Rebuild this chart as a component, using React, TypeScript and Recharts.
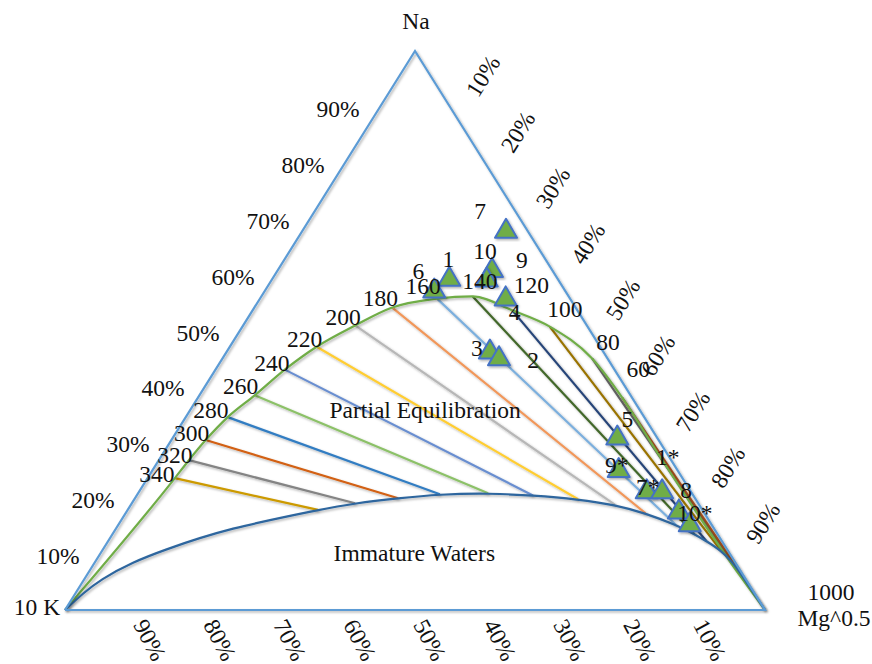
import React from 'react';
import { ComposedChart, XAxis, YAxis, Line, Scatter } from 'recharts';

// Ternary compositions in percent: [Na, K, Mg]
type Tern = [number, number, number];

const vertices: Tern[] = [[100, 0, 0], [0, 100, 0], [0, 0, 100]];
const vertexLabels: string[][] = [['Na'], ['10 K'], ['1000', 'Mg^0.5']];
const axisTicks = [10, 20, 30, 40, 50, 60, 70, 80, 90];

// Na-K temperatures (°C), start on the full equilibrium line, end on the immature line
const isoTemps = [340, 320, 300, 280, 260, 240, 220, 200, 180, 160, 140, 120, 100, 80, 60];
const isoStart: Tern[] = [
  [23.6, 72.5, 3.9],
  [26.8, 68.9, 4.3],
  [30.4, 64.7, 4.9],
  [34.5, 59.5, 6.0],
  [38.4, 53.7, 7.9],
  [43.0, 47.1, 9.9],
  [47.1, 40.5, 12.4],
  [50.9, 33.1, 16.0],
  [54.1, 26.2, 19.7],
  [55.7, 19.0, 25.3],
  [56.1, 13.7, 30.2],
  [53.6, 9.3, 37.1],
  [50.7, 5.4, 43.9],
  [45.0, 2.2, 52.8],
  [38.0, 1.4, 60.6],
];
const isoEnd: Tern[] = [
  [17.9, 54.9, 27.2],
  [19.1, 49.0, 31.9],
  [20.0, 42.4, 37.6],
  [20.7, 36.1, 43.2],
  [20.9, 29.1, 50.0],
  [20.5, 22.9, 56.6],
  [19.8, 16.8, 63.4],
  [18.8, 12.0, 69.2],
  [17.3, 8.4, 74.3],
  [15.2, 5.1, 79.7],
  [13.6, 3.3, 83.1],
  [12.3, 2.2, 85.5],
  [10.7, 1.0, 88.3],
  [8.6, 0.4, 91.0],
  [6.8, 0.2, 93.0],
];
const isoColors = [
  '#CC9A06', '#848484', '#D26012', '#327DC2', '#8CC168', '#698ED0', '#FFCD33', '#B7B7B7',
  '#F1975A', '#7CAFDD', '#43682B', '#264478', '#997300', '#636363', '#A5501E',
];

// extra points of the full equilibrium line below 60 °C
const fullTail: Tern[] = [[28.0, 1.3, 70.7], [16.0, 1.0, 83.0], [6.0, 0.5, 93.5]];
// immature waters line before the 340 °C tie
const immatureLead: Tern[] = [
  [3.0, 95.9, 1.1],
  [5.4, 92.3, 2.3],
  [8.6, 86.0, 5.4],
  [10.9, 80.0, 9.1],
  [12.9, 74.3, 12.8],
  [14.6, 68.7, 16.7],
  [16.0, 63.1, 20.9],
];

const sampleNames = ['7', '10', '9', '1', '6', '4', '3', '2', '5', '9*', '7*', '8', '10*', '1*'];
const sampleNa = [68.2, 61.2, 59.5, 59.6, 57.5, 56.1, 46.6, 45.4, 31.2, 25.4, 21.6, 21.6, 18.0, 15.7];
const sampleK = [2.9, 8.4, 10.0, 15.3, 18.5, 9.0, 16.0, 15.3, 5.5, 8.2, 6.1, 3.9, 3.3, 2.9];
const sampleMg = [28.9, 30.4, 30.5, 25.1, 24.0, 34.9, 37.4, 39.3, 63.3, 66.4, 72.3, 74.5, 78.7, 81.4];

const regionNames = ['Partial Equilibration', 'Immature Waters'];
const regionAt: Tern[] = [[35.7, 30.7, 33.6], [10.2, 45.0, 44.8]];

// label placement (pixels from the point)
const sampleLabelOffset: Record<string, [number, number]> = {
  '7': [-26, -18], '10': [-7, -17], '9': [35, -17], '1': [-1, -18], '6': [-16, -18],
  '4': [9, 16], '3': [-13, -2], '2': [34, 4], '5': [10, -17], '9*': [-2, -3],
  '7*': [1, -2], '8': [24, 1], '10*': [16, 4], '1*': [-22, -65],
};
const isoLabelOffset: Record<number, [number, number]> = {
  340: [-18, -4], 320: [-14, -5], 300: [-14, -7], 280: [-17, -7], 260: [-14, -9],
  240: [-13, -7], 220: [-12, -8], 200: [-12, -8], 180: [-12, -10], 160: [-14, -13],
  140: [7, -15], 120: [19, -25], 100: [15, -18], 80: [16, -16], 60: [16, -29],
};
const vertexLabelOffset: [number, number][] = [[1, -30], [-28, -3], [66, -18]];

const toXY = ([na, , mg]: Tern) => ({ x: (mg + na / 2) / 100, y: na / 100 });

const FONT = "'Liberation Serif', 'Times New Roman', serif";

const Txt = ({ x, y, text, rotate = 0 }: { x: number; y: number; text: string; rotate?: number }) => (
  <text
    x={x}
    y={y}
    textAnchor="middle"
    dominantBaseline="central"
    transform={rotate ? `rotate(${rotate} ${x} ${y})` : undefined}
    fontFamily={FONT}
    fontSize={23.5}
    fill="#111"
  >
    {text}
  </text>
);

const outline = [toXY(vertices[1]), toXY(vertices[0]), toXY(vertices[2]), toXY(vertices[1])];

const fullEquilibrium = [vertices[1], ...isoStart, ...fullTail, vertices[2]].map(toXY);
const immatureWaters = [vertices[1], ...immatureLead, ...isoEnd, vertices[2]].map(toXY);

const isoLines = isoTemps.map((t, i) => ({
  t,
  color: isoColors[i],
  pts: [toXY(isoStart[i]), toXY(isoEnd[i])],
}));
const isoLabels = isoTemps.map((t, i) => ({ ...toXY(isoStart[i]), t }));

const samples = sampleNames.map((name, i) => ({
  ...toXY([sampleNa[i], sampleK[i], sampleMg[i]]),
  name,
}));

const leftTicks = axisTicks.map((v) => ({ ...toXY([v, 100 - v, 0]), v }));
const rightTicks = axisTicks.map((v) => ({ ...toXY([100 - v, 0, v]), v }));
const bottomTicks = axisTicks.map((v) => ({ ...toXY([0, v, 100 - v]), v }));
const vertexPts = vertices.map((t, i) => ({ ...toXY(t), i }));
const regions = regionNames.map((name, i) => ({ ...toXY(regionAt[i]), name }));

const lineProps = {
  dataKey: 'y',
  strokeWidth: 2.2,
  dot: false,
  activeDot: false,
  isAnimationActive: false,
  filter: 'url(#soft-shadow)',
} as const;

export default function App() {
  return (
    <div style={{ position: 'absolute', left: 0, top: 0, width: 872, height: 664, background: '#fff' }}>
      <svg width={0} height={0} style={{ position: 'absolute' }}>
        <defs>
          <filter id="soft-shadow" x="-20%" y="-20%" width="140%" height="140%">
            <feDropShadow dx={1.5} dy={1.5} stdDeviation={1} floodColor="#000" floodOpacity={0.3} />
          </filter>
        </defs>
      </svg>
      <ComposedChart width={872} height={664} margin={{ top: 51, right: 107, bottom: 54, left: 65 }}>
        <XAxis type="number" dataKey="x" domain={[0, 1]} hide />
        <YAxis type="number" dataKey="y" domain={[0, 1]} hide />

        {isoLines.map((l) => (
          <Line key={l.t} data={l.pts} type="linear" stroke={l.color} {...lineProps} />
        ))}

        <Line data={fullEquilibrium} type="monotone" stroke="#70AD47" {...lineProps} />
        <Line data={immatureWaters} type="basis" stroke="#2E669E" {...lineProps} />
        <Line data={outline} type="linear" stroke="#5B9BD5" {...lineProps} />

        <Scatter
          data={samples}
          isAnimationActive={false}
          shape={(p: any) => (
            <polygon
              points={`${p.cx},${p.cy - 10} ${p.cx + 11},${p.cy + 9} ${p.cx - 11},${p.cy + 9}`}
              fill="#70AD47"
              stroke="#4472C4"
              strokeWidth={2}
              strokeLinejoin="round"
              filter="url(#soft-shadow)"
            />
          )}
        />
        <Scatter
          data={samples}
          isAnimationActive={false}
          shape={(p: any) => {
            const [dx, dy] = sampleLabelOffset[p.payload.name] ?? [0, -18];
            return <Txt x={p.cx + dx} y={p.cy + dy} text={p.payload.name} />;
          }}
        />
        <Scatter
          data={isoLabels}
          isAnimationActive={false}
          shape={(p: any) => {
            const [dx, dy] = isoLabelOffset[p.payload.t];
            return <Txt x={p.cx + dx} y={p.cy + dy} text={String(p.payload.t)} />;
          }}
        />
        <Scatter
          data={leftTicks}
          isAnimationActive={false}
          shape={(p: any) => <Txt x={p.cx - 42} y={p.cy + 2} text={`${p.payload.v}%`} />}
        />
        <Scatter
          data={rightTicks}
          isAnimationActive={false}
          shape={(p: any) => <Txt x={p.cx + 33} y={p.cy - 31} text={`${p.payload.v}%`} rotate={-58} />}
        />
        <Scatter
          data={bottomTicks}
          isAnimationActive={false}
          shape={(p: any) => <Txt x={p.cx + 15} y={p.cy + 30} text={`${p.payload.v}%`} rotate={62} />}
        />
        <Scatter
          data={vertexPts}
          isAnimationActive={false}
          shape={(p: any) => {
            const [dx, dy] = vertexLabelOffset[p.payload.i];
            const lines = vertexLabels[p.payload.i];
            return (
              <g>
                {lines.map((s, j) => (
                  <Txt key={s} x={p.cx + dx + (j ? 3 : 0)} y={p.cy + dy + j * 26} text={s} />
                ))}
              </g>
            );
          }}
        />
        <Scatter
          data={regions}
          isAnimationActive={false}
          shape={(p: any) => <Txt x={p.cx} y={p.cy} text={p.payload.name} />}
        />
      </ComposedChart>
    </div>
  );
}
